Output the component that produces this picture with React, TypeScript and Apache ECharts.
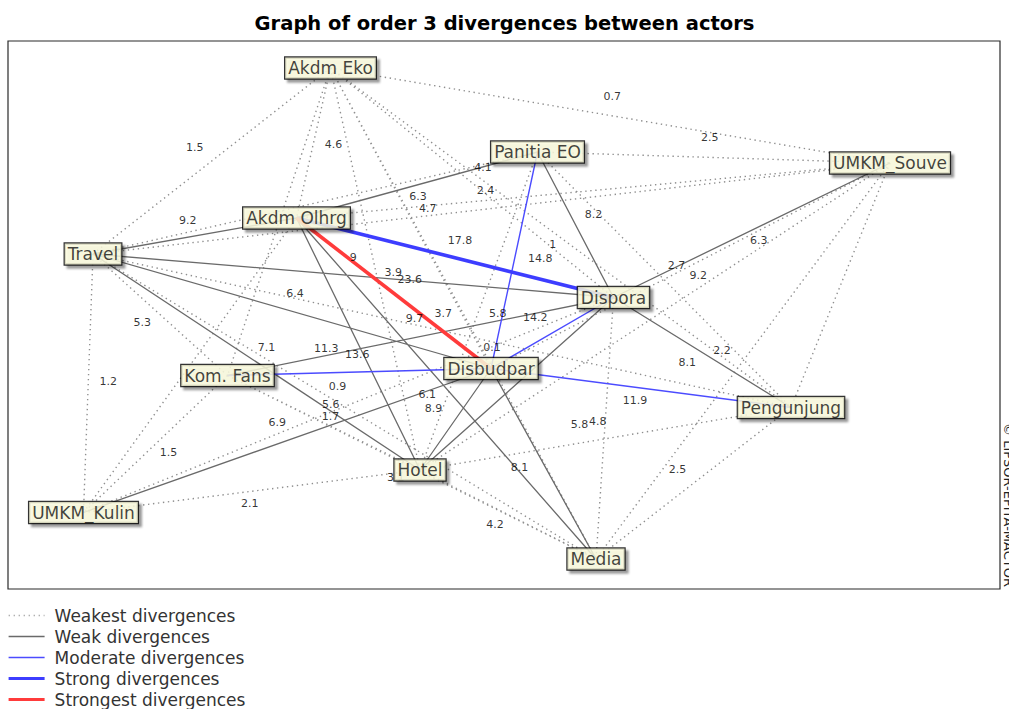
import React, { useEffect, useRef } from "react";
import * as echarts from "echarts";

// Actors (nodes) and their layout positions on the map
const actors = [
  "Akdm Eko", "Panitia EO", "UMKM_Souve", "Akdm Olhrg", "Travel", "Dispora",
  "Kom. Fans", "Disbudpar", "Pengunjung", "Hotel", "UMKM_Kulin", "Media",
];
const actorX = [330.5, 537.5, 890, 296.5, 93, 613.5, 227.5, 491, 791, 420, 83.5, 596];
const actorY = [68, 152, 163, 218, 254, 297.5, 375.5, 368.5, 407.5, 470, 512.5, 559];

const classes = [
  "Weakest divergences",
  "Weak divergences",
  "Moderate divergences",
  "Strong divergences",
  "Strongest divergences",
];

// Edges: from, to, value, class index
const edgeFrom = [
  "Akdm Eko", "Akdm Eko", "Akdm Eko", "Panitia EO", "Akdm Eko", "Akdm Eko", "Travel", "Akdm Eko",
  "UMKM_Souve", "Panitia EO", "Akdm Eko", "Akdm Eko", "Panitia EO", "Travel", "Travel", "UMKM_Souve",
  "Travel", "Travel", "Kom. Fans", "UMKM_Kulin", "Hotel", "Dispora", "Kom. Fans", "Kom. Fans",
  "Pengunjung", "UMKM_Kulin", "Hotel", "Akdm Eko", "UMKM_Kulin", "Akdm Olhrg", "UMKM_Souve", "Travel",
  "UMKM_Souve",
  "Travel", "Akdm Olhrg", "Travel", "Travel", "Travel", "Kom. Fans", "Akdm Olhrg", "Akdm Olhrg",
  "Disbudpar", "Disbudpar", "Hotel", "UMKM_Kulin", "UMKM_Souve", "Panitia EO", "Dispora",
  "Panitia EO", "Disbudpar", "Kom. Fans", "Disbudpar",
  "Akdm Olhrg",
  "Akdm Olhrg",
];
const edgeTo = [
  "Travel", "Akdm Olhrg", "UMKM_Souve", "UMKM_Souve", "Dispora", "Disbudpar", "UMKM_Souve", "Pengunjung",
  "Disbudpar", "Pengunjung", "Hotel", "Media", "Hotel", "Kom. Fans", "Pengunjung", "Media",
  "UMKM_Kulin", "Media", "Hotel", "Dispora", "Pengunjung", "Media", "UMKM_Kulin", "Media",
  "Media", "Hotel", "Media", "Kom. Fans", "Akdm Olhrg", "UMKM_Souve", "Pengunjung", "Panitia EO",
  "Hotel",
  "Akdm Olhrg", "Panitia EO", "Dispora", "Disbudpar", "Hotel", "Dispora", "Hotel", "Media",
  "Media", "Hotel", "Dispora", "Disbudpar", "Dispora", "Dispora", "Pengunjung",
  "Disbudpar", "Dispora", "Disbudpar", "Pengunjung",
  "Dispora",
  "Disbudpar",
];
const edgeValue: (number | null)[] = [
  1.5, 4.6, 0.7, 2.5, 4.1, 4.7, 2.4, 1,
  2.7, 9.2, 3.9, 3.7, 5.8, 5.3, 0.1, 2.2,
  1.2, 0.9, 5.6, 1.7, 5.8, 4.8, 1.5, 3.1,
  2.5, 2.1, 4.2, null, null, null, null, null,
  null,
  9.2, 6.3, 9, 6.4, 7.1, 9.7, 13.6, 6.1,
  8.1, 8.9, null, 6.9, 6.3, 8.2, 8.1,
  14.8, 14.2, 11.3, 11.9,
  17.8,
  23.6,
];
const edgeClass = [
  0, 0, 0, 0, 0, 0, 0, 0,
  0, 0, 0, 0, 0, 0, 0, 0,
  0, 0, 0, 0, 0, 0, 0, 0,
  0, 0, 0, 0, 0, 0, 0, 0,
  0,
  1, 1, 1, 1, 1, 1, 1, 1,
  1, 1, 1, 1, 1, 1, 1,
  2, 2, 2, 2,
  3,
  4,
];
// where each value label sits relative to the middle of its edge (px)
const labelNudgeX = [
  -17, 20, 2, -4, 11, 17, -6, -8,
  -14, 34, 18, -20, 19, -18, 50, -21,
  20, -7, 7, -18, -26, -7, 13, -16,
  -16, -2, -13, 0, 0, 0, 0, 0,
  0,
  -7, 1, 0, 3, 10, -6, -1, -19,
  -24, -22, 0, -10, 7, 18, -15,
  26, -17, -33, -6,
  5,
  16,
];
const labelNudgeY = [
  -14, 1, -19, -20, -15, -10, -18, 7,
  0, -4, 3, 0, 2, 8, 17, -11,
  -2, -20, -18, 11, -14, -7, 8, 10,
  -14, 12, 10, 0, 0, 0, 0, 0,
  0,
  -16, 11, -18, -18, -15, -18, 10, 6,
  4, -11, 0, -18, 10, -10, 10,
  -2, -16, -24, 12,
  -17,
  -14,
];

const lineStyles = [
  { color: "#8f8f8f", width: 1.4, type: [1.4, 3.6] as any },
  { color: "#6a6a6a", width: 1.3, type: "solid" as any },
  { color: "#4b4bff", width: 1.4, type: "solid" as any },
  { color: "#3d3dff", width: 3.6, type: "solid" as any },
  { color: "#ff3b3b", width: 3.6, type: "solid" as any },
];

export default function App() {
  const ref = useRef<HTMLDivElement>(null);
  useEffect(() => {
    if (!ref.current) return;
    const chart = echarts.init(ref.current, undefined, { renderer: "svg" });
    const idx = (n: string) => actors.indexOf(n);

    const lineSeries = classes.map((cls, c) => {
      const data: any[] = [];
      edgeFrom.forEach((f, i) => {
        if (edgeClass[i] !== c) return;
        const a = idx(f);
        const b = idx(edgeTo[i]);
        data.push([actorX[a], actorY[a]]);
        data.push([actorX[b], actorY[b]]);
        data.push(["-", "-"]);
      });
      return {
        name: cls,
        type: "line",
        data,
        symbol: "none",
        showSymbol: false,
        connectNulls: false,
        silent: true,
        clip: false,
        z: 2 + c * 0.1,
        lineStyle: { ...lineStyles[c], cap: "butt" },
        itemStyle: { color: lineStyles[c].color },
      };
    });

    const labelData: any[] = [];
    edgeFrom.forEach((f, i) => {
      const v = edgeValue[i];
      if (v == null) return;
      const a = idx(f);
      const b = idx(edgeTo[i]);
      const mx = (actorX[a] + actorX[b]) / 2 + labelNudgeX[i];
      const my = (actorY[a] + actorY[b]) / 2 + labelNudgeY[i];
      labelData.push({ name: String(v), value: [mx, my] });
    });

    chart.setOption({
      animation: false,
      title: {
        text: "Graph of order 3 divergences between actors",
        left: "center",
        top: 8,
        textStyle: {
          fontFamily: "DejaVu Sans",
          fontWeight: "bold",
          fontSize: 19.5,
          color: "#000",
        },
      },
      grid: {
        left: 8,
        top: 41,
        width: 992,
        height: 548,
        show: true,
        borderColor: "#2a2a2a",
        borderWidth: 1.2,
        backgroundColor: "transparent",
      },
      xAxis: { type: "value", min: 8, max: 1000, show: false },
      yAxis: { type: "value", min: 41, max: 589, inverse: true, show: false },
      legend: {
        data: classes.map((name, c) => ({
          name,
          lineStyle: {
            width: c >= 3 ? 3.2 : 1.3,
            color: c === 0 ? "#b0b0b0" : lineStyles[c].color,
            type: lineStyles[c].type,
          },
        })),
        orient: "vertical",
        left: 7,
        top: 607,
        height: 102,
        padding: 0,
        itemWidth: 36,
        itemHeight: 14,
        itemGap: 4,
        selectedMode: false,
        itemStyle: { opacity: 0 },
        textStyle: {
          fontFamily: "DejaVu Sans",
          fontSize: 17,
          color: "#333",
          lineHeight: 14,
          padding: [0, 0, 0, 5],
        },
      },
      graphic: [
        {
          type: "text",
          x: 1002,
          y: 423,
          rotation: -Math.PI / 2,
          style: {
            text: "© LIPSOR-EPITA-MACTOR",
            font: '13px "DejaVu Sans"',
            fill: "#222",
            textAlign: "left",
            textVerticalAlign: "bottom",
          },
        },
      ],
      series: [
        ...lineSeries,
        {
          name: "values",
          type: "scatter",
          data: labelData,
          symbolSize: 1,
          silent: true,
          z: 5,
          itemStyle: { color: "rgba(0,0,0,0)" },
          label: {
            show: true,
            position: "inside",
            formatter: "{b}",
            fontFamily: "DejaVu Sans",
            fontSize: 11,
            color: "#000",
          },
        },
        {
          name: "actors",
          type: "scatter",
          data: actors.map((n, i) => ({ name: n, value: [actorX[i], actorY[i]] })),
          symbolSize: 1,
          silent: true,
          z: 6,
          itemStyle: { color: "rgba(0,0,0,0)" },
          label: {
            show: true,
            position: "inside",
            formatter: "{b}",
            fontFamily: "DejaVu Sans",
            fontSize: 17,
            color: "#111",
            lineHeight: 20,
            backgroundColor: "#ffffe1",
            borderColor: "#000",
            borderWidth: 1.2,
            padding: [1, 3, 0, 3],
            shadowColor: "rgba(0,0,0,0.45)",
            shadowBlur: 2,
            shadowOffsetX: 3,
            shadowOffsetY: 3,
          },
        },
      ],
    });
    return () => chart.dispose();
  }, []);
  return (
    <div
      ref={ref}
      style={{ position: "absolute", left: 0, top: 0, width: 1009, height: 709, background: "#fff" }}
    />
  );
}
